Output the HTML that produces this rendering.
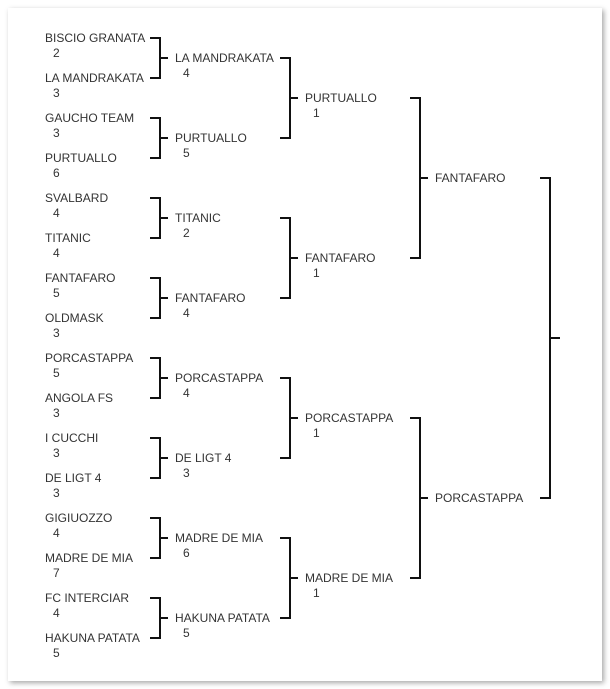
<!DOCTYPE html>
<html><head><meta charset="utf-8"><style>
html,body{margin:0;padding:0;background:#fff;width:610px;height:689px;overflow:hidden}
.card{position:absolute;left:8px;top:8px;width:594px;height:673px;background:#fff;box-shadow:2px 2px 5px rgba(0,0,0,.35)}
svg{position:absolute;left:0;top:0}
text{font-family:"Liberation Sans",Arial,sans-serif;font-size:12px;fill:#333}
path{stroke:#111;stroke-width:2;fill:none}
</style></head><body>
<div class="card"></div>
<svg width="610" height="689" viewBox="0 0 610 689">
<g id="t">
<text x="45" y="42">BISCIO GRANATA</text><text x="53" y="57">2</text>
<text x="45" y="82">LA MANDRAKATA</text><text x="53" y="97">3</text>
<text x="45" y="122">GAUCHO TEAM</text><text x="53" y="137">3</text>
<text x="45" y="162">PURTUALLO</text><text x="53" y="177">6</text>
<text x="45" y="202">SVALBARD</text><text x="53" y="217">4</text>
<text x="45" y="242">TITANIC</text><text x="53" y="257">4</text>
<text x="45" y="282">FANTAFARO</text><text x="53" y="297">5</text>
<text x="45" y="322">OLDMASK</text><text x="53" y="337">3</text>
<text x="45" y="362">PORCASTAPPA</text><text x="53" y="377">5</text>
<text x="45" y="402">ANGOLA FS</text><text x="53" y="417">3</text>
<text x="45" y="442">I CUCCHI</text><text x="53" y="457">3</text>
<text x="45" y="482">DE LIGT 4</text><text x="53" y="497">3</text>
<text x="45" y="522">GIGIUOZZO</text><text x="53" y="537">4</text>
<text x="45" y="562">MADRE DE MIA</text><text x="53" y="577">7</text>
<text x="45" y="602">FC INTERCIAR</text><text x="53" y="617">4</text>
<text x="45" y="642">HAKUNA PATATA</text><text x="53" y="657">5</text>

<text x="175" y="62">LA MANDRAKATA</text><text x="183" y="77">4</text>
<text x="175" y="142">PURTUALLO</text><text x="183" y="157">5</text>
<text x="175" y="222">TITANIC</text><text x="183" y="237">2</text>
<text x="175" y="302">FANTAFARO</text><text x="183" y="317">4</text>
<text x="175" y="382">PORCASTAPPA</text><text x="183" y="397">4</text>
<text x="175" y="462">DE LIGT 4</text><text x="183" y="477">3</text>
<text x="175" y="542">MADRE DE MIA</text><text x="183" y="557">6</text>
<text x="175" y="622">HAKUNA PATATA</text><text x="183" y="637">5</text>

<text x="305" y="102">PURTUALLO</text><text x="313" y="117">1</text>
<text x="305" y="262">FANTAFARO</text><text x="313" y="277">1</text>
<text x="305" y="422">PORCASTAPPA</text><text x="313" y="437">1</text>
<text x="305" y="582">MADRE DE MIA</text><text x="313" y="597">1</text>

<text x="435" y="182">FANTAFARO</text>
<text x="435" y="502">PORCASTAPPA</text>
</g>
<path d="
M150 38H160V78H150M160 58H168
M150 118H160V158H150M160 138H168
M150 198H160V238H150M160 218H168
M150 278H160V318H150M160 298H168
M150 358H160V398H150M160 378H168
M150 438H160V478H150M160 458H168
M150 518H160V558H150M160 538H168
M150 598H160V638H150M160 618H168
M280 58H290V138H280M290 98H298
M280 218H290V298H280M290 258H298
M280 378H290V458H280M290 418H298
M280 538H290V618H280M290 578H298
M410 98H420V258H410M420 178H428
M410 418H420V578H410M420 498H428
M540 178H550V498H540M550 338H560
"/>
</svg>
</body></html>
